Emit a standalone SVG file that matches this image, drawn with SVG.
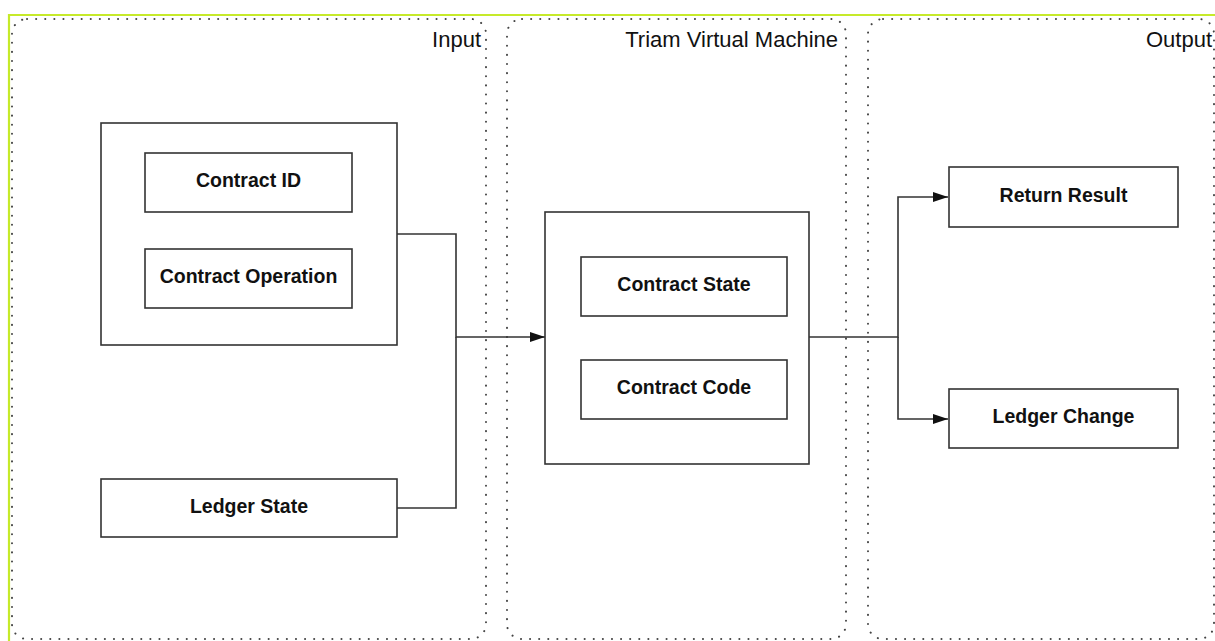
<svg xmlns="http://www.w3.org/2000/svg" width="1215" height="641" viewBox="0 0 1215 641">
<style>
.lane{fill:none;stroke:#444;stroke-width:2;stroke-dasharray:0.1 9;stroke-linecap:round}
.title{font-family:"Liberation Sans",Arial,sans-serif;font-size:22px;fill:#111;text-anchor:end}
.box{fill:#fff;stroke:#333;stroke-width:1.6}
.lbl{font-family:"Liberation Sans",Arial,sans-serif;font-size:19.5px;font-weight:bold;fill:#111;text-anchor:middle}
.conn{fill:none;stroke:#333;stroke-width:1.6}
</style>
<defs>
<marker id="arrow" markerUnits="userSpaceOnUse" markerWidth="16" markerHeight="12" refX="15" refY="5" orient="auto">
<path d="M0,0 L15,5 L0,10 Z" fill="#111"/>
</marker>
</defs>
<rect width="1215" height="641" fill="#fff"/>
<path d="M9,641 V15 H1215" fill="none" stroke="#c6ea2a" stroke-width="2.2"/>
<g id="lane-input">
<rect class="lane" x="12" y="19" width="474" height="620" rx="15"/>
<text class="title" x="481" y="47">Input</text>
</g>
<g id="lane-tvm">
<rect class="lane" x="507" y="19" width="339" height="620" rx="15"/>
<text class="title" x="838" y="47">Triam Virtual Machine</text>
</g>
<g id="lane-output">
<rect class="lane" x="868" y="19" width="346" height="620" rx="15"/>
<text class="title" x="1212" y="47">Output</text>
</g>
<g id="connectors">
<path class="conn" d="M397,234 H456 V337 H545" marker-end="url(#arrow)"/>
<path class="conn" d="M397,508 H456 V337"/>
<path class="conn" d="M809,337 H898 V197 H948" marker-end="url(#arrow)"/>
<path class="conn" d="M898,337 V419 H948" marker-end="url(#arrow)"/>
</g>
<g id="input-group">
<rect class="box" x="101" y="123" width="296" height="222"/>
</g>
<g id="contract-id">
<rect class="box" x="145" y="153" width="207" height="59"/>
<text class="lbl" x="248.5" y="187">Contract ID</text>
</g>
<g id="contract-operation">
<rect class="box" x="145" y="249" width="207" height="59"/>
<text class="lbl" x="248.5" y="283">Contract Operation</text>
</g>
<g id="ledger-state">
<rect class="box" x="101" y="479" width="296" height="58"/>
<text class="lbl" x="249" y="513">Ledger State</text>
</g>
<g id="tvm-box">
<rect class="box" x="545" y="212" width="264" height="252"/>
</g>
<g id="contract-state">
<rect class="box" x="581" y="257" width="206" height="59"/>
<text class="lbl" x="684" y="291">Contract State</text>
</g>
<g id="contract-code">
<rect class="box" x="581" y="360" width="206" height="59"/>
<text class="lbl" x="684" y="394">Contract Code</text>
</g>
<g id="return-result">
<rect class="box" x="949" y="167" width="229" height="60"/>
<text class="lbl" x="1063.5" y="202">Return Result</text>
</g>
<g id="ledger-change">
<rect class="box" x="949" y="389" width="229" height="59"/>
<text class="lbl" x="1063.5" y="423">Ledger Change</text>
</g>
</svg>
